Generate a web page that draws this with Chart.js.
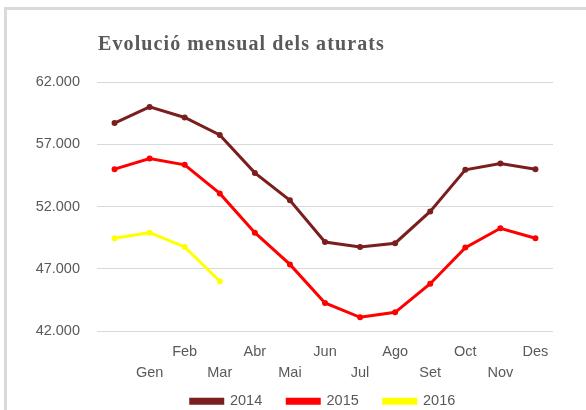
<!DOCTYPE html>
<html>
<head>
<meta charset="utf-8">
<script src="https://cdn.jsdelivr.net/npm/chart.js@4"></script>
<style>
  html, body { margin: 0; padding: 0; background: #ffffff; }
  #wrap { position: relative; width: 586px; height: 410px; overflow: hidden; }
  #frame { position: absolute; left: 4px; top: 7px; width: 640px; height: 460px; border: 3px solid #d9d9d9; box-sizing: border-box; }
  #c { position: absolute; left: 0; top: 0; }
</style>
</head>
<body>
<div id="wrap">
  <div id="frame"></div>
  <canvas id="c" width="586" height="410"></canvas>
</div>
<script>
const titleText = 'Evolució mensual dels aturats';
const categories = ['', 'Gen', 'Feb', 'Mar', 'Abr', 'Mai', 'Jun', 'Jul', 'Ago', 'Set', 'Oct', 'Nov', 'Des'];
const seriesNames = ['2014', '2015', '2016'];
const values2014 = [58700, 60000, 59150, 57750, 54700, 52500, 49150, 48750, 49050, 51600, 54950, 55450, 55000];
const values2015 = [55000, 55850, 55350, 53050, 49900, 47350, 44250, 43100, 43500, 45800, 48700, 50250, 49450];
const values2016 = [49450, 49900, 48750, 46000];
const yTicks = [42000, 47000, 52000, 57000, 62000];
const colors = ['#7b1e1e', '#ff0000', '#ffff00'];

function fmt(v) {
  return String(v).replace(/\B(?=(\d{3})+(?!\d))/g, '.');
}

const titlePlugin = {
  id: 'customTitle',
  afterLayout(chart) {
    // place the legend row under the month labels, centred on the plot area
    const lg = chart.legend;
    if (lg) {
      const h = lg.bottom - lg.top;
      lg.top = 369;
      lg.bottom = 369 + h;
      const ca = chart.chartArea;
      const w = lg.right - lg.left;
      const shift = (ca.left + ca.right) / 2 - (lg.left + lg.right) / 2 - 2;
      lg.left += shift;
      lg.right = lg.left + w;
    }
  },
  afterDraw(chart) {
    const ctx = chart.ctx;
    ctx.save();
    ctx.font = 'bold 20px "Liberation Serif", serif';
    try { ctx.letterSpacing = '1.1px'; } catch (e) {}
    ctx.fillStyle = '#5a5a5a';
    ctx.textAlign = 'left';
    ctx.textBaseline = 'middle';
    ctx.fillText(titleText, 98, 45);
    ctx.restore();
  }
};

const mk = (label, data, color) => ({
  label, data,
  borderColor: color,
  backgroundColor: color,
  borderWidth: 3,
  pointRadius: 1.5,
  pointHoverRadius: 1.5,
  pointBackgroundColor: color,
  pointBorderColor: color,
  tension: 0,
  fill: false
});

new Chart(document.getElementById('c'), {
  type: 'line',
  data: {
    labels: categories,
    datasets: [
      mk(seriesNames[0], values2014, colors[0]),
      mk(seriesNames[1], values2015, colors[1]),
      mk(seriesNames[2], values2016, colors[2])
    ]
  },
  plugins: [titlePlugin],
  options: {
    responsive: false,
    animation: false,
    devicePixelRatio: 1,
    layout: { padding: { left: 0, right: 33, top: 82, bottom: -27.5 } },
    plugins: {
      title: { display: false },
      tooltip: { enabled: false },
      legend: {
        position: 'bottom',
        labels: {
          boxWidth: 32,
          boxHeight: 4,
          padding: 25,
          color: '#595959',
          font: { family: 'Liberation Sans, Arial, sans-serif', size: 14.5 }
        }
      }
    },
    scales: {
      x: {
        offset: true,
        grid: { display: false, drawTicks: false },
        border: { display: false },
        ticks: {
          autoSkip: false,
          maxRotation: 0,
          minRotation: 0,
          padding: 10.5,
          color: '#595959',
          font: { family: 'Liberation Sans, Arial, sans-serif', size: 14.5, lineHeight: 1.45 },
          callback: function(val, idx) {
            const l = categories[idx];
            return idx % 2 === 0 ? [l, ''] : ['', l];
          }
        },
        afterFit(scale) { scale.height = 57; }
      },
      y: {
        min: 42000,
        max: 62000,
        grid: { color: '#d9d9d9', lineWidth: 1, drawTicks: false },
        border: { display: false },
        afterBuildTicks(scale) { scale.ticks = yTicks.map(v => ({ value: v })); },
        ticks: {
          padding: 17,
          color: '#595959',
          font: { family: 'Liberation Sans, Arial, sans-serif', size: 14.5 },
          callback: v => fmt(v)
        },
        afterFit(scale) { scale.width = 97; }
      }
    }
  }
});
</script>
</body>
</html>
